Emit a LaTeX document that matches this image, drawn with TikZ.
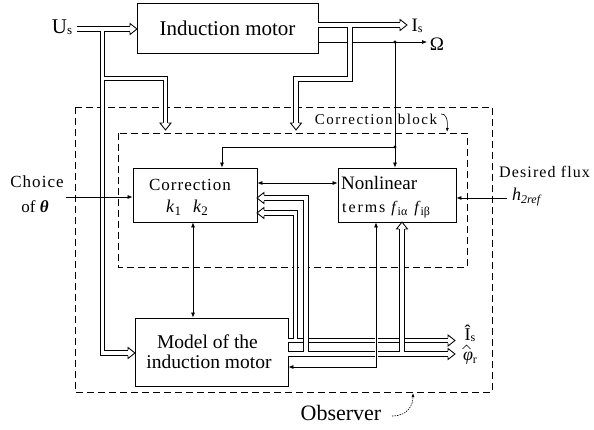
\documentclass[tikz,border=0pt]{standalone}
\usepackage{fontspec}
\setmainfont{Liberation Serif}
\usetikzlibrary{arrows.meta,calc}
\newcommand\myfs[1]{\fontsize{#1}{#1}\selectfont}
\begin{document}
\begin{tikzpicture}[x=1pt,y=-1pt,
  box/.style={draw, line width=0.8pt, inner sep=0pt},
  thinl/.style={line width=0.7pt},
  sarr/.style={line width=0.7pt, -{Latex[length=5pt,width=4pt]}},
  barr/.style={line width=0.7pt, {Latex[length=5pt,width=4pt]}-{Latex[length=5pt,width=4pt]}},
  dbl/.style={line width=0.9pt, double=white, double distance=3.8pt, line join=miter},
  dsh/.style={line width=0.7pt, dash pattern=on 7pt off 4pt},
  ohd/.pic={\fill[white] (0,-5.5) -- (7,0) -- (0,5.5) -- cycle;
    \draw[line width=0.85pt, line join=miter] (0,2.8) -- (0,5.5) -- (7,0) -- (0,-5.5) -- (0,-2.8);},
  dot/.style={circle, fill, inner sep=0pt, minimum size=3.2pt},
  lbl/.style={inner sep=0pt}
]
\useasboundingbox (0,0) rectangle (594,430);
\fill[white] (0,0) rectangle (594,430);

% dashed frames
\draw[dsh] (75,107) rectangle (492,392);
\draw[dsh] (118,133) rectangle (467,267);

% blocks
\node[box, minimum width=181pt, minimum height=50pt, font=\myfs{21}] (motor) at (227.5,28) {Induction motor};
\node[box, minimum width=124pt, minimum height=54pt] (corr) at (195,195) {};
\node[lbl, font=\myfs{17}\addfontfeature{LetterSpace=6}] (corrt) at (190,185) {Correction};
\node[lbl, font=\myfs{18}] (kk) at (187,208) {\textit{k}\raisebox{-3pt}{\myfs{13}1}\hspace{12pt}\textit{k}\raisebox{-3pt}{\myfs{13}2}};
\node[box, minimum width=118pt, minimum height=54pt] (nonlin) at (397,195) {};
\node[lbl, anchor=west, font=\myfs{19}] (nlt) at (341,183) {Nonlinear};
\node[lbl, anchor=west, font=\myfs{16}] (nlt2) at (342,210) {{\addfontfeature{LetterSpace=12}terms}\hspace{6pt}\textit{f}\raisebox{-3pt}{\myfs{12}iα}\hspace{7pt}\textit{f}\raisebox{-3pt}{\myfs{12}iβ}};
\node[box, minimum width=153pt, minimum height=68pt] (model) at (211.5,352) {};
\node[lbl, font=\myfs{19.5}] (mt1) at (207.5,342) {Model of the};
\node[lbl, font=\myfs{19.5}] (mt2) at (209,362) {induction motor};

% labels
\node[lbl, font=\myfs{21}] (us) at (62,27) {U\raisebox{-1pt}{\myfs{13}s}};
\node[lbl, font=\myfs{19}] (is) at (417,26) {I\raisebox{-1pt}{\myfs{12}s}};
\node[lbl, font=\myfs{19}] (om) at (437,44) {Ω};
\node[lbl, font=\myfs{18}] (ish) at (470,333.5) {\^{I}\raisebox{-1pt}{\myfs{12}s}};
\node[lbl, font=\myfs{18}] (phh) at (470,358.5) {\textit{φ}\raisebox{-3pt}{\myfs{12}r}};
\draw[line width=0.6pt] (462.5,349) -- (466.5,345) -- (470.5,349);
\node[lbl, font=\myfs{17}\addfontfeature{LetterSpace=6}] (ch1) at (37,182) {Choice};
\node[lbl, font=\myfs{17}] (ch2) at (35,207) {of \textbf{\textit{θ}}};
\node[lbl, anchor=west, font=\myfs{16}\addfontfeature{LetterSpace=7}] (df) at (499,172) {Desired flux};
\node[lbl, anchor=west, font=\myfs{18}] (h2) at (512,197) {\textit{h}\raisebox{-3pt}{\myfs{12}\textit{2ref}}};
\node[lbl, font=\myfs{15}\addfontfeature{LetterSpace=10}] (cbl) at (376,119) {Correction block};
\node[lbl, font=\myfs{22}] (obs) at (341,413) {Observer};

% pointer curls
\draw[line width=0.6pt, -{Latex[length=4pt,width=3pt]}] (441,114) .. controls (446,113) and (448,120) .. (447,132);
\draw[line width=0.6pt, dash pattern=on 1.5pt off 1pt, -{Latex[length=4pt,width=3pt]}] (392,416) .. controls (408,416) and (413,405) .. (413,393);

% Us input
\draw[dbl] (77,29) -- (130,29) (102.5,29) -- (102.5,353) -- (128,353) (102.5,78.5) -- (165.5,78.5) -- (165.5,123);
\pic at (130,29) {ohd};
\pic[rotate=-90] at (165.5,123) {ohd};
\pic at (128,353) {ohd};

% Omega output and feedback
\draw[sarr] (318.4,42) -- (427,42);
\node[dot] (d1) at (395,42) {};
\node[dot] (d2) at (395,147) {};
\draw[thinl] (d1.center) -- (d2.center);
\draw[sarr] (d2.center) -- (d2 |- nonlin.north);
\draw[sarr] (d2.center) -- (222,147) -- ($(corr.north)+(27,0)$);

% Is output
\draw[dbl] (318.4,25) -- (400,25) (350,25) -- (350,79) -- (296,79) -- (296,123);
\pic at (400,25) {ohd};
\pic[rotate=-90] at (296,123) {ohd};

% theta and flux inputs
\draw[sarr] (66,197) -- ($(corr.west)+(0,2)$);
\draw[sarr] (507,198) -- ($(nonlin.east)+(0,3)$);
\draw[barr] ($(corr.east)+(0,-12)$) -- ($(nonlin.west)+(0,-12)$);
\draw[barr] ($(corr.south)+(-2,0)$) -- ($(model.north)+(-18.5,0)$);

% estimated Is
\draw[dbl] (288.4,340.5) -- (448,340.5) (295.5,340.5) -- (295.5,213) -- (264,213);
\pic at (448,340.5) {ohd};
\pic[rotate=180] at (264,213) {ohd};

% estimated flux
\draw[dbl] (288.4,354) -- (448,354) (306,354) -- (306,198) -- (264,198) (402,354) -- (402,229);
\pic at (448,354) {ohd};
\pic[rotate=180] at (264,198) {ohd};
\pic[rotate=90] at (402,229) {ohd};

% nonlinear terms <-> model
\draw[white, line width=3pt] (376,332) -- (376,360);
\draw[barr] ($(nonlin.south)+(-21,0)$) -- (376,367) -- (model.east |- 376,367);
\end{tikzpicture}
\end{document}
